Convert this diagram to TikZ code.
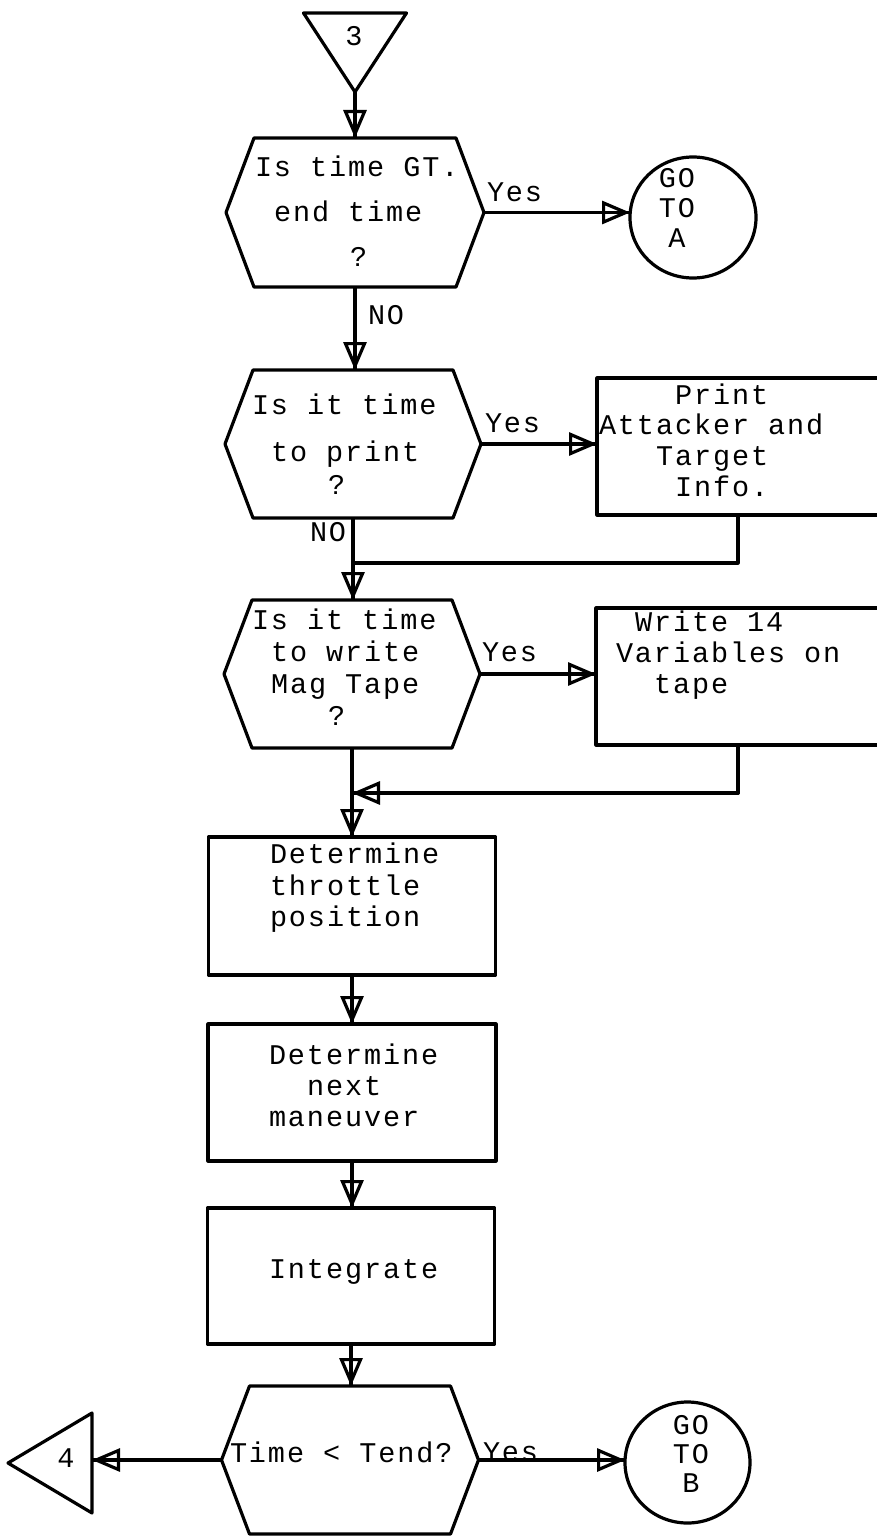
\documentclass[tikz,border=0pt]{standalone}
\usepackage{fontspec}
\usetikzlibrary{arrows.meta,shapes.geometric}
\newfontfamily\fl{Liberation Mono}[LetterSpace=6.7]
\newlength\cw \setlength\cw{19pt}
\newcommand\ind[1]{\hspace*{#1\cw}}
\newcommand\hexline[1]{\draw[ln] (#1.north west) -- (#1.north east) -- ([xshift=28pt]#1.east) -- (#1.south east) -- (#1.south west) -- ([xshift=-28pt]#1.west) -- cycle;}
\begin{document}
\begin{tikzpicture}[x=1pt,y=-1pt,
  every node/.style={inner sep=0pt, outer sep=0pt},
  ln/.style={line width=3.2pt, line join=round},
  txt/.style={font=\fl\fontsize{28.5}{#1}\selectfont, align=left, anchor=west},
  txt/.default=31,
  arr/.style={ln, -{Triangle[open,length=28pt,width=23pt]}, postaction={draw,-}}
]
\fill[white] (0,0) rectangle (876,1536);
\useasboundingbox (0,0) rectangle (876,1536);

% triangle 3
\node[minimum width=103pt, minimum height=79pt] (tri3) at (355,52.5) {};
\draw[ln] (tri3.north west) -- (tri3.north east) -- (tri3.south) -- cycle;
\node[txt, anchor=center] (tri3t) at (354,36) {3};

% hex1
\node[minimum width=202pt, minimum height=149pt] (hex1) at (355,212.5) {};
\hexline{hex1}
\node[txt=45] (hex1t) at (255,211) {Is time GT.\\\ind{1}end time\\\ind{5}?};
\coordinate (hex1e) at ([xshift=28pt]hex1.east);

% circle A
\node[ellipse, draw, ln, minimum width=126pt, minimum height=121pt] (cA) at (693,217.5) {};
\node[txt=30, align=center, anchor=center] (cAt) at (677,208) {GO\\TO\\A};

% hex2
\node[minimum width=200pt, minimum height=148pt] (hex2) at (353,444) {};
\hexline{hex2}
\node[txt=33] (hex2t) at (252,444) {Is it time\\[14pt]\ind{1}to print\\\ind{4}?};
\coordinate (hex2e) at ([xshift=28pt]hex2.east);

% print box
\node[draw, ln, minimum width=300pt, minimum height=137pt] (boxP) at (747,446.5) {};
\node[txt=30.7] (boxPt) at (599,440) {\ind{4}Print\\Attacker and\\\ind{3}Target\\\ind{4}Info.};

% hex3
\node[minimum width=200pt, minimum height=148pt] (hex3) at (352,674) {};
\hexline{hex3}
\node[txt=32] (hex3t) at (252,667.5) {Is it time\\\ind{1}to write\\\ind{1}Mag Tape\\\ind{4}?};
\coordinate (hex3e) at ([xshift=28pt]hex3.east);

% write box
\node[draw, ln, minimum width=300pt, minimum height=137pt] (boxW) at (746,676.5) {};
\node[txt=31] (boxWt) at (616,655.5) {\ind{1}Write 14\\Variables on\\\ind{2}tape};

% process boxes
\node[draw, ln, minimum width=287pt, minimum height=138pt] (box1) at (352,906) {};
\node[txt=31.5] (box1t) at (270,888) {Determine\\throttle\\position};
\node[draw, ln, minimum width=288pt, minimum height=137pt] (box2) at (352,1092.5) {};
\node[txt=31] (box2t) at (269,1085) {Determine\\\ind{2}next\\maneuver};
\node[draw, ln, minimum width=287pt, minimum height=136pt] (box3) at (351,1276) {};
\node[txt] (box3t) at (269,1271.5) {Integrate};

% hex4
\node[minimum width=201pt, minimum height=148pt] (hex4) at (350,1460) {};
\hexline{hex4}
\node[txt] (hex4t) at (230,1452) {Time < Tend?};
\coordinate (hex4e) at ([xshift=28pt]hex4.east);
\coordinate (hex4w) at ([xshift=-28pt]hex4.west);

% triangle 4
\node[minimum width=84pt, minimum height=100pt] (tri4) at (50,1463) {};
\draw[ln] (tri4.north east) -- (tri4.south east) -- (tri4.west) -- cycle;
\node[txt, anchor=center] (tri4t) at (66,1458) {4};

% circle B
\node[ellipse, draw, ln, minimum width=125pt, minimum height=121pt] (cB) at (687.5,1462.5) {};
\node[txt=29, align=center, anchor=center] (cBt) at (691,1454) {GO\\TO\\B};

% labels
\node[txt] (y1) at (487,192) {Yes};
\node[txt] (n1) at (368,315) {NO};
\node[txt] (y2) at (485,423) {Yes};
\node[txt] (n2) at (310,532) {NO};
\node[txt] (y3) at (482,652) {Yes};
\node[txt] (y4) at (483,1452) {Yes};

% return junctions
\coordinate (pj) at (738,563);
\coordinate (wj) at (738,793);

% connectors
\draw[arr] (tri3.south) -- (tri3.south |- hex1.north);
\draw[arr] (hex1e) -- (hex1e -| cA.west);
\draw[arr] (hex1.south) -- (hex1.south |- hex2.north);
\draw[arr] (hex2e) -- (hex2e -| boxP.west);
\draw[arr] (hex2.south) -- (hex2.south |- hex3.north);
\draw[ln] (boxP.south -| pj) -- (pj) -- (pj -| hex2.south);
\draw[arr] (hex3e) -- (hex3e -| boxW.west);
\draw[arr] (hex3.south) -- (hex3.south |- box1.north);
\draw[arr] (boxW.south -| wj) -- (wj) -- (wj -| hex3.south);
\draw[arr] (box1.south) -- (box1.south |- box2.north);
\draw[arr] (box2.south) -- (box2.south |- box3.north);
\draw[arr] (box3.south) -- (box3.south |- hex4.north);
\draw[arr] (hex4w) -- (hex4w -| tri4.east);
\draw[arr] (hex4e) -- (hex4e -| cB.west);
\end{tikzpicture}
\end{document}
